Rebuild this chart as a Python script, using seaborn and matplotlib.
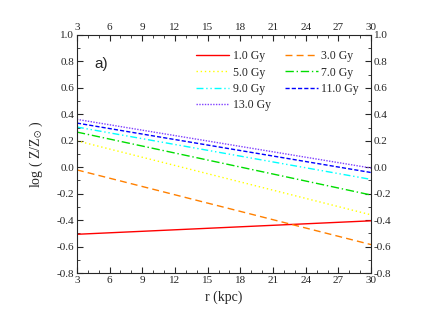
import matplotlib
matplotlib.use("Agg")
import matplotlib.pyplot as plt
import seaborn as sns
import pandas as pd
from matplotlib.ticker import MultipleLocator

# data (endpoints at r = 3 and r = 30 kpc)
r = [3, 30]
ages = ["1.0 Gy", "3.0 Gy", "5.0 Gy", "7.0 Gy", "9.0 Gy", "11.0 Gy", "13.0 Gy"]
z_1 = [-0.507, -0.405]
z_3 = [-0.02, -0.585]
z_5 = [0.20, -0.36]
z_7 = [0.266, -0.21]
z_9 = [0.304, -0.092]
z_11 = [0.334, -0.04]
z_13 = [0.362, -0.006]
series = [z_1, z_3, z_5, z_7, z_9, z_11, z_13]

colors = ["#ff0000", "#ff8000", "#ffff00", "#00dd00", "#00ffff", "#0000ff", "#8040ff"]
styles = ["-", (0, (5, 3)), (0, (1, 2)), (0, (6, 2, 1, 2)), (0, (5, 2, 1, 2, 1, 2)),
          (0, (3, 1.5)), (0, (1, 1))]

rows = []
for age, vals in zip(ages, series):
    for x, v in zip(r, vals):
        rows.append({"r": x, "z": v, "age": age})
df = pd.DataFrame(rows)

sns.set_theme(style="ticks")
plt.rcParams['font.family'] = ['Liberation Serif', 'DejaVu Serif']
plt.rcParams['mathtext.fontset'] = 'stix'

fig = plt.figure(figsize=(4.32, 3.27), dpi=100)
ax = fig.add_axes([0.178, 0.165, 0.681, 0.728])

lines = {}
for age, c, ls in zip(ages, colors, styles):
    sns.lineplot(data=df[df["age"] == age], x="r", y="z", color=c, ax=ax,
                 linewidth=1.0, label=age)
    ax.lines[-1].set_linestyle(ls)
    lines[age] = ax.lines[-1]

ax.set_xlim(3, 30)
ax.set_ylim(-0.8, 1.0)
ax.xaxis.set_major_locator(MultipleLocator(3))
ax.xaxis.set_minor_locator(MultipleLocator(1))
ax.yaxis.set_major_locator(MultipleLocator(0.2))
ax.yaxis.set_minor_locator(MultipleLocator(0.1))
ax.yaxis.set_major_formatter(matplotlib.ticker.FormatStrFormatter('%.1f'))
ax.tick_params(which='both', direction='in', top=True, right=True,
               labeltop=True, labelright=True, labelsize=8, pad=2)
ax.tick_params(which='major', length=4, width=0.8)
ax.tick_params(which='minor', length=2, width=0.6)
for s in ax.spines.values():
    s.set_linewidth(0.8)

ax.set_xlabel("r (kpc)", fontsize=10)
ax.set_ylabel(r"log ( Z/Z$_{\odot}$ )", fontsize=10, labelpad=8)

ax.text(0.06, 0.86, "a)", transform=ax.transAxes, fontsize=11,
        family=['Liberation Sans', 'DejaVu Sans'])

order = ["1.0 Gy", "5.0 Gy", "9.0 Gy", "13.0 Gy", "3.0 Gy", "7.0 Gy", "11.0 Gy"]
ax.legend([lines[a] for a in order], order, ncol=2, frameon=False, fontsize=8.5,
          loc='upper right', bbox_to_anchor=(0.995, 0.98), handlelength=2.8,
          handletextpad=0.3, columnspacing=1.2, labelspacing=0.35)

fig.savefig("out.png", dpi=100)
